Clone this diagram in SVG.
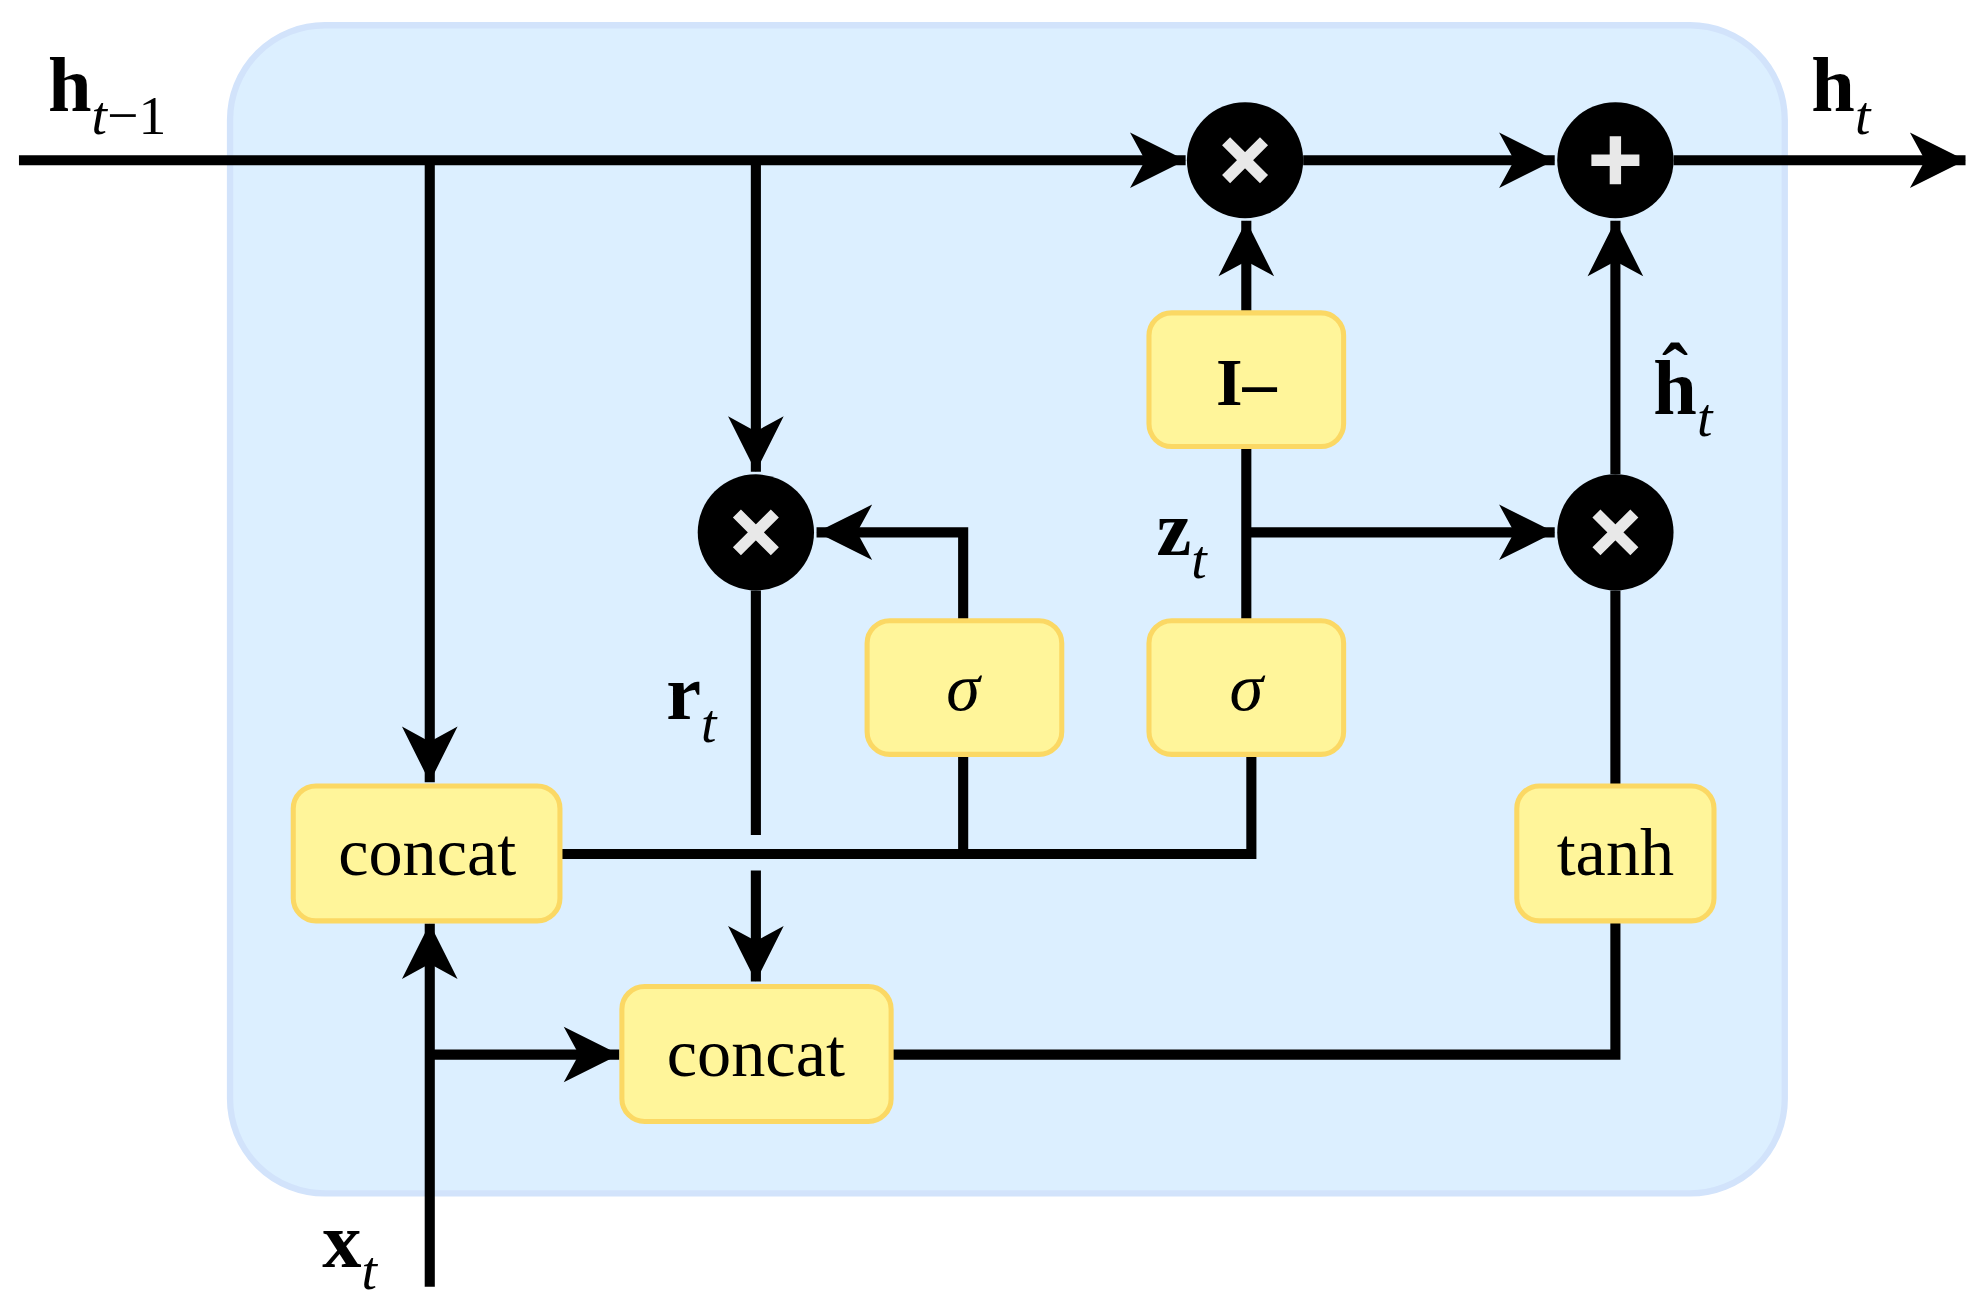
<svg xmlns="http://www.w3.org/2000/svg" width="1982" height="1312" viewBox="0 0 1982 1312">
<defs>
<style>
.ln{stroke:#000;stroke-width:8;fill:none}
.bx{fill:#fff59a;stroke:#fbd864;stroke-width:4}
.t{font-family:"Liberation Serif",serif;fill:#000}
.op{fill:#000}
.sym{stroke:#e8e8e8;stroke-width:9;fill:none}
</style>
<marker id="a" markerUnits="userSpaceOnUse" viewBox="-46 -24 48 48" refX="0" refY="0" markerWidth="48" markerHeight="48" orient="auto">
<path d="M0,0 L-44,-22 L-32,0 L-44,22 Z" fill="#000"/>
</marker>
</defs>
<rect width="1982" height="1312" fill="#fff"/>
<g transform="scale(1.264,1.2615)">
<rect x="182" y="20" width="1230" height="926" rx="75" fill="#dcefff" stroke="#d2e3fb" stroke-width="5"/>
<g id="connectors">
<path class="ln" d="M15,127 H938" marker-end="url(#a)"/>
<path class="ln" d="M1031,127 H1230" marker-end="url(#a)"/>
<path class="ln" d="M1324,127 H1555" marker-end="url(#a)"/>
<path class="ln" d="M340,127 V620" marker-end="url(#a)"/>
<path class="ln" d="M598,127 V374" marker-end="url(#a)"/>
<path class="ln" d="M762,492 V422 H646" marker-end="url(#a)"/>
<path class="ln" d="M986,492 V354"/>
<path class="ln" d="M986,248 V175" marker-end="url(#a)"/>
<path class="ln" d="M986,422 H1230" marker-end="url(#a)"/>
<path class="ln" d="M443,677 H990 V598"/>
<path class="ln" d="M762,677 V598"/>
<path class="ln" d="M598,468 V662"/>
<path class="ln" d="M598,690 V778" marker-end="url(#a)"/>
<path class="ln" d="M705,836 H1278 V730"/>
<path class="ln" d="M1278,622 V468"/>
<path class="ln" d="M1278,376 V175" marker-end="url(#a)"/>
<path class="ln" d="M340,1020 V732" marker-end="url(#a)"/>
<path class="ln" d="M340,836 H490" marker-end="url(#a)"/>
</g>
<g id="mul1"><circle class="op" cx="985" cy="127" r="46"/><path class="sym" d="M970,112 L1000,142 M1000,112 L970,142"/></g>
<g id="add"><circle class="op" cx="1278" cy="127" r="46"/><path class="sym" d="M1278,108 V146 M1259,127 H1297"/></g>
<g id="mulr"><circle class="op" cx="598" cy="422" r="46"/><path class="sym" d="M583,407 L613,437 M613,407 L583,437"/></g>
<g id="mul2"><circle class="op" cx="1278" cy="422" r="46"/><path class="sym" d="M1263,407 L1293,437 M1293,407 L1263,437"/></g>
<g id="concat1"><rect class="bx" x="232" y="623" width="211" height="107" rx="18"/><text class="t" x="338" y="694" font-size="54" text-anchor="middle">concat</text></g>
<g id="concat2"><rect class="bx" x="492" y="782" width="213" height="107" rx="18"/><text class="t" x="598" y="853" font-size="54" text-anchor="middle">concat</text></g>
<g id="sigma1"><rect class="bx" x="686" y="492" width="154" height="106" rx="18"/><text class="t" x="762" y="563" font-size="54" font-style="italic" text-anchor="middle">σ</text></g>
<g id="sigma2"><rect class="bx" x="909" y="492" width="154" height="106" rx="18"/><text class="t" x="986" y="563" font-size="54" font-style="italic" text-anchor="middle">σ</text></g>
<g id="iminus"><rect class="bx" x="909" y="248" width="154" height="106" rx="18"/><text class="t" x="986" y="321" font-size="54" font-weight="bold" text-anchor="middle">I–</text></g>
<g id="tanh"><rect class="bx" x="1200" y="623" width="156" height="107" rx="18"/><text class="t" x="1278" y="694" font-size="54" text-anchor="middle">tanh</text></g>
<g id="labels" class="t">
<text x="38" y="88" font-size="62" font-weight="bold">h<tspan font-size="44" font-weight="normal" font-style="italic" dy="18">t</tspan><tspan font-size="44" font-weight="normal" dy="0">−1</tspan></text>
<text x="1433" y="88" font-size="62" font-weight="bold">h<tspan font-size="44" font-weight="normal" font-style="italic" dy="18">t</tspan></text>
<text x="1308" y="328" font-size="62" font-weight="bold">ĥ<tspan font-size="44" font-weight="normal" font-style="italic" dy="18">t</tspan></text>
<text x="915" y="440" font-size="62" font-weight="bold">z<tspan font-size="44" font-weight="normal" font-style="italic" dy="18">t</tspan></text>
<text x="527" y="570" font-size="62" font-weight="bold">r<tspan font-size="44" font-weight="normal" font-style="italic" dy="18">t</tspan></text>
<text x="255" y="1004" font-size="62" font-weight="bold">x<tspan font-size="44" font-weight="normal" font-style="italic" dy="18">t</tspan></text>
</g>
</g>
</svg>
